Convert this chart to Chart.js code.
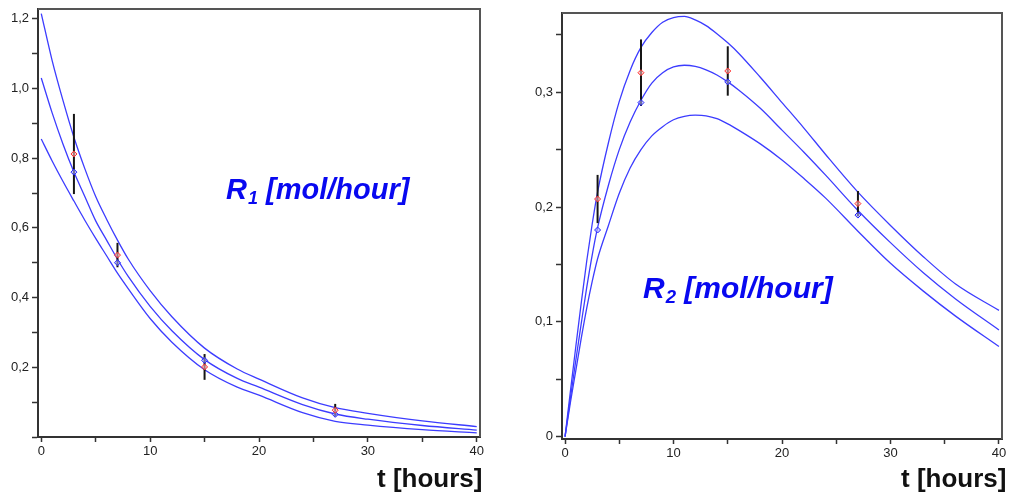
<!DOCTYPE html>
<html>
<head>
<meta charset="utf-8">
<script src="https://cdn.jsdelivr.net/npm/chart.js@4"></script>
<style>
  html, body { margin: 0; padding: 0; background: #fff; }
  body { width: 1011px; height: 493px; position: relative; overflow: hidden; font-family: "Liberation Sans", Arial, sans-serif; }
  .box { position: absolute; top: 0; height: 493px; }
  .lbl { position: absolute; white-space: nowrap; line-height: 1; font-weight: bold; }
  .rate { color: #0808f0; font-style: italic; }
  .rate .sub { font-size: 0.62em; position: relative; top: 0.28em; margin-left: 1px; }
  .axis { color: #111; font-size: 26px; }
</style>
</head>
<body>
<div class="box" style="left:0;width:487px"><canvas id="left"></canvas></div>
<div class="box" style="left:520px;width:491px"><canvas id="right"></canvas></div>

<div class="lbl rate" style="left:226px;top:175px;font-size:29px">R<span class="sub">1</span> [mol/hour]</div>
<div class="lbl rate" style="left:643px;top:273px;font-size:30px">R<span class="sub">2</span> [mol/hour]</div>
<div class="lbl axis" style="left:377px;top:465px">t [hours]</div>
<div class="lbl axis" style="left:901px;top:465px">t [hours]</div>

<script>
const $ = (id) => document.getElementById(id);

// ---- left panel: R1 ----
const tLeft = [0, 1, 2, 3, 4, 5, 6, 7, 8, 10, 12, 15, 18, 20, 24, 27, 30, 35, 40];
const r1Upper = [1.215, 1.08, 0.965, 0.86, 0.77, 0.69, 0.625, 0.565, 0.51, 0.42, 0.345, 0.255, 0.195, 0.166, 0.112, 0.084, 0.068, 0.046, 0.030];
const r1Mid = [1.03, 0.93, 0.84, 0.76, 0.69, 0.62, 0.565, 0.51, 0.46, 0.375, 0.305, 0.222, 0.168, 0.143, 0.093, 0.066, 0.051, 0.033, 0.020];
const r1Low = [0.855, 0.792, 0.733, 0.677, 0.622, 0.57, 0.52, 0.47, 0.425, 0.34, 0.272, 0.193, 0.143, 0.12, 0.07, 0.045, 0.034, 0.021, 0.012];

// ---- right panel: R2 ----
const tRight = [0, 0.5, 1, 1.5, 2, 2.5, 3, 4, 5, 6, 7, 8, 9, 10, 11, 12, 13, 14, 15, 16, 18, 20, 22, 24, 27, 30, 33, 36, 40];
const r2Upper = [0, 0.04, 0.079, 0.117, 0.153, 0.185, 0.213, 0.256, 0.292, 0.319, 0.339, 0.352, 0.361, 0.365, 0.366, 0.363, 0.358, 0.351, 0.343, 0.334, 0.313, 0.291, 0.269, 0.246, 0.213, 0.184, 0.157, 0.133, 0.110];
const r2Mid = [0, 0.034, 0.067, 0.099, 0.13, 0.158, 0.182, 0.219, 0.25, 0.274, 0.293, 0.308, 0.317, 0.322, 0.3235, 0.3225, 0.3195, 0.315, 0.309, 0.302, 0.286, 0.267, 0.248, 0.228, 0.197, 0.169, 0.143, 0.120, 0.093];
const r2Low = [0, 0.03, 0.058, 0.086, 0.112, 0.135, 0.155, 0.184, 0.212, 0.234, 0.25, 0.262, 0.27, 0.276, 0.279, 0.28, 0.2795, 0.277, 0.2725, 0.267, 0.255, 0.241, 0.225, 0.208, 0.179, 0.151, 0.127, 0.105, 0.0785];

// measurements (red, with error bars) and model values at the same times (blue)
const tObs = [3, 7, 15, 27];
const r1Obs = [0.812, 0.522, 0.201, 0.077];
const r1Err = [0.115, 0.035, 0.037, 0.018];
const r1Fit = [0.76, 0.50, 0.22, 0.065];
const r2Obs = [0.207, 0.317, 0.3185, 0.203];
const r2Err = [0.021, 0.029, 0.0215, 0.011];
const r2Fit = [0.18, 0.291, 0.309, 0.193];

const COLORS = {
  curve: "#3c3cff",
  obs: "#ff2a2a",
  fit: "#2424ff",
  bar: "#151515",
  axis: "#333",
  tick: "#222",
};

const pts = (xs, ys) => xs.map((x, i) => ({ x, y: ys[i] }));

function buildDatasets(tCurve, curves, obs, err, fit) {
  const ds = [];
  ds.push({
    data: pts(tObs, obs), showLine: false,
    pointStyle: "rectRot", pointRadius: 3, borderWidth: 1,
    pointBorderColor: COLORS.obs, pointBackgroundColor: "rgba(255,190,190,0.6)",
  });
  ds.push({
    data: pts(tObs, fit), showLine: false,
    pointStyle: "rectRot", pointRadius: 3, borderWidth: 1,
    pointBorderColor: COLORS.fit, pointBackgroundColor: "rgba(170,170,255,0.6)",
  });
  tObs.forEach((t, i) => {
    ds.push({
      data: [{ x: t, y: obs[i] - err[i] }, { x: t, y: obs[i] + err[i] }],
      borderColor: COLORS.bar, borderWidth: 2, pointRadius: 0,
    });
  });
  for (const c of curves) {
    ds.push({
      data: pts(tCurve, c),
      borderColor: COLORS.curve, borderWidth: 1.3, pointRadius: 0,
      cubicInterpolationMode: "monotone",
    });
  }
  return ds;
}

// draws the top and right edges of the plot frame
const framePlugin = {
  id: "frame",
  afterDraw(chart) {
    const { ctx, chartArea: a } = chart;
    ctx.save();
    ctx.strokeStyle = "#555";
    ctx.lineWidth = 2;
    ctx.beginPath();
    ctx.moveTo(a.left, a.top);
    ctx.lineTo(a.right, a.top);
    ctx.lineTo(a.right, a.bottom);
    ctx.stroke();
    ctx.restore();
  },
};

const near = (v, step) => Math.abs(v / step - Math.round(v / step)) < 1e-6;

function makeChart(id, cfg) {
  const canvas = $(id);
  canvas.width = cfg.w;
  canvas.height = 493;
  canvas.style.width = cfg.w + "px";
  canvas.style.height = "493px";
  return new Chart(canvas, {
    type: "line",
    data: { datasets: cfg.datasets },
    plugins: [framePlugin],
    options: {
      responsive: false, animation: false,
      layout: { padding: { top: cfg.top, right: cfg.right, left: 0, bottom: 0 } },
      plugins: { legend: { display: false }, tooltip: { enabled: false } },
      scales: {
        x: {
          type: "linear", min: cfg.xMin, max: cfg.xMax,
          border: { display: true, color: COLORS.axis, width: 2 },
          grid: { drawOnChartArea: false, drawTicks: true, tickLength: 5, tickColor: COLORS.axis, tickWidth: 1.5 },
          ticks: {
            stepSize: 5, includeBounds: false, autoSkip: false, maxRotation: 0,
            padding: 2, color: COLORS.tick, font: { family: "Liberation Sans", size: 13 },
            callback: (v) => (near(v, 10) ? String(Math.round(v)) : ""),
          },
          afterFit(s) { s.height = cfg.xH; s.paddingLeft = 0; s.paddingRight = 0; },
        },
        y: {
          type: "linear", min: cfg.yMin, max: cfg.yMax,
          border: { display: true, color: COLORS.axis, width: 2 },
          grid: { drawOnChartArea: false, drawTicks: true, tickLength: 6, tickColor: COLORS.axis, tickWidth: 1.5 },
          ticks: {
            stepSize: cfg.yStep, includeBounds: false, autoSkip: false,
            padding: 3, color: COLORS.tick, font: { family: "Liberation Sans", size: 13 },
            callback: cfg.yLabel,
          },
          afterFit(s) { s.width = cfg.yW; s.paddingTop = 0; s.paddingBottom = 0; },
        },
      },
    },
  });
}

makeChart("left", {
  w: 487, top: 9, right: 7, xH: 56, yW: 38,
  xMin: -0.3, xMax: 40.3, yMin: 0, yMax: 1.228, yStep: 0.1,
  yLabel: (v) => (v > 0.05 && near(v, 0.2) ? v.toFixed(1).replace(".", ",") : ""),
  datasets: buildDatasets(tLeft, [r1Upper, r1Mid, r1Low], r1Obs, r1Err, r1Fit),
});

makeChart("right", {
  w: 491, top: 13, right: 9, xH: 54, yW: 42,
  xMin: -0.28, xMax: 40.28, yMin: -0.002, yMax: 0.369, yStep: 0.05,
  yLabel: (v) => (Math.abs(v) < 1e-9 ? "0" : near(v, 0.1) ? v.toFixed(1).replace(".", ",") : ""),
  datasets: buildDatasets(tRight, [r2Upper, r2Mid, r2Low], r2Obs, r2Err, r2Fit),
});
</script>
</body>
</html>
